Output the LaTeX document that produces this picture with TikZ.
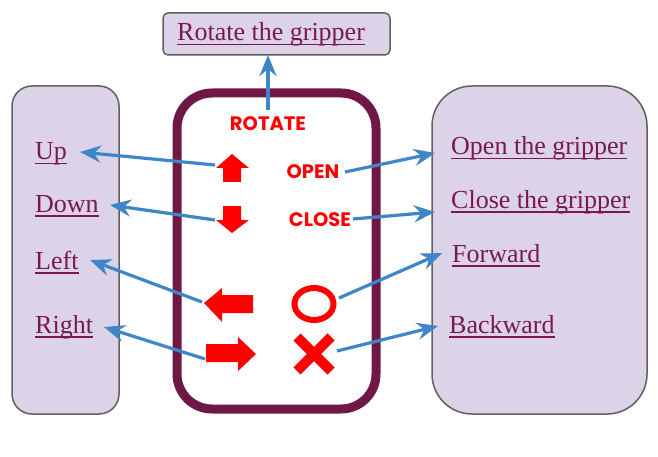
\documentclass[tikz,border=0pt]{standalone}
\usepackage{fontspec}
\setmainfont{Liberation Serif}
\newfontfamily\redfont{Poppins}
\usetikzlibrary{arrows.meta}
\definecolor{lav}{HTML}{DCD3E8}
\definecolor{boxgray}{HTML}{606060}
\definecolor{maroon}{HTML}{7A1A4A}
\definecolor{frame}{HTML}{701845}
\definecolor{linkblue}{HTML}{3F86C8}
\definecolor{symred}{HTML}{FF0000}
\newcommand\myul[1]{\setbox0\hbox{#1}\rlap{\rule[-4.5pt]{\wd0}{1.8pt}}\box0}
\tikzset{
  panel/.style={draw=boxgray, fill=lav, line width=1.5pt},
  label/.style={text=maroon, font=\fontsize{26}{28}\selectfont, inner sep=0pt},
  cmd/.style={text=symred, font=\redfont\bfseries\fontsize{19.5}{20}\selectfont, inner sep=0pt},
  link/.style={draw=linkblue, line width=3.2pt, -{Stealth[length=21pt,width=17pt,inset=7pt]}},
  sym/.style={fill=symred, draw=none}
}
\begin{document}
\begin{tikzpicture}[x=1pt,y=-1pt]
\useasboundingbox (0,0) rectangle (658,457);
% panels
\draw[panel, rounded corners=5pt] (163,13) rectangle (390,55);
\draw[panel, rounded corners=20pt] (12,86) rectangle (119,414);
\draw[panel, rounded corners=40pt] (432,86) rectangle (647,414);
\draw[draw=frame, line width=9pt, rounded corners=35pt] (177,93) rectangle (376,409);
% texts
\node[label, anchor=base west] (rot) at (177,41) {\myul{Rotate the gripper}};
\node[label, anchor=base west] (up) at (35,160) {\myul{Up}};
\node[label, anchor=base west] (down) at (35,212) {\myul{Down}};
\node[label, anchor=base west] (left) at (35,269) {\myul{Left}};
\node[label, anchor=base west] (right) at (35,333) {\myul{Right}};
\node[label, anchor=base west] (open) at (451,155) {\myul{Open the gripper}};
\node[label, anchor=base west] (close) at (451,208) {\myul{Close the gripper}};
\node[label, anchor=base west] (fwd) at (452,262) {\myul{Forward}};
\node[label, anchor=base west] (bwd) at (449,333) {\myul{Backward}};
% command words
\node[cmd] (ROT) at (268,124) {ROTATE};
\node[cmd] (OPEN) at (313,172) {OPEN};
\node[cmd] (CLOSE) at (320,220) {CLOSE};
% red symbols
\fill[sym] (232,154) -- (249,168) -- (241,168) -- (241,182) -- (223,182) -- (223,168) -- (216,168) -- cycle;
\fill[sym] (232,233) -- (249,220) -- (241,220) -- (241,206) -- (223,206) -- (223,220) -- (216,220) -- cycle;
\fill[sym] (204,303) -- (222,288) -- (222,295) -- (253,295) -- (253,313) -- (222,313) -- (222,322) -- cycle;
\fill[sym] (256,354) -- (238,337) -- (238,344) -- (206,344) -- (206,362) -- (238,362) -- (238,371) -- cycle;
\draw[symred, line width=6pt] (314,304) ellipse [x radius=19.5, y radius=16];
\draw[symred, line width=10pt] (297,337) -- (331,371);
\draw[symred, line width=10pt] (331,337) -- (297,371);
% endpoints
\coordinate (sUp) at (215,165);   \coordinate (tUp) at (80,152);
\coordinate (sDown) at (215,220); \coordinate (tDown) at (110,205);
\coordinate (sLeft) at (202,302); \coordinate (tLeft) at (90,260);
\coordinate (sRight) at (205,359);\coordinate (tRight) at (104,327);
\coordinate (sOpen) at (345,172); \coordinate (tOpen) at (435,153);
\coordinate (sClose) at (353,219);\coordinate (tClose) at (435,212);
\coordinate (sO) at (339,298);    \coordinate (tO) at (442,253);
\coordinate (sX) at (337,351);    \coordinate (tX) at (438,326);
\coordinate (sRot) at (268,110);  \coordinate (tRot) at (268,55);
% links
\draw[link] (sUp) -- (tUp);
\draw[link] (sDown) -- (tDown);
\draw[link] (sLeft) -- (tLeft);
\draw[link] (sRight) -- (tRight);
\draw[link] (sOpen) -- (tOpen);
\draw[link] (sClose) -- (tClose);
\draw[link] (sO) -- (tO);
\draw[link] (sX) -- (tX);
\draw[link] (sRot) -- (tRot);
\end{tikzpicture}
\end{document}
